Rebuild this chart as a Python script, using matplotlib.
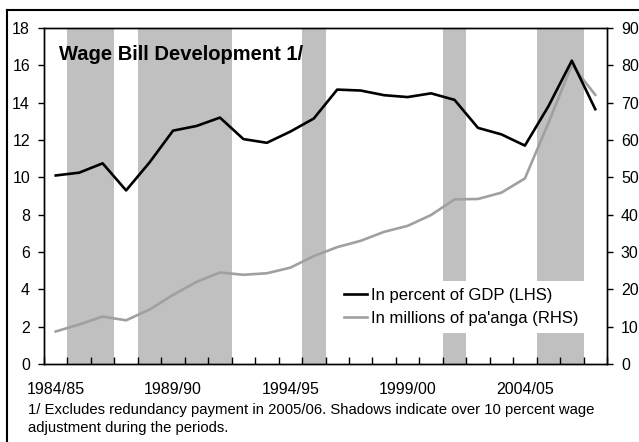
import matplotlib
matplotlib.use("Agg")
import matplotlib.pyplot as plt
from matplotlib.lines import Line2D

plt.rcParams['font.family'] = ['Liberation Sans', 'DejaVu Sans']

years = ['1984/85', '1985/86', '1986/87', '1987/88', '1988/89', '1989/90',
         '1990/91', '1991/92', '1992/93', '1993/94', '1994/95', '1995/96',
         '1996/97', '1997/98', '1998/99', '1999/00', '2000/01', '2001/02',
         '2002/03', '2003/04', '2004/05', '2005/06', '2006/07', '2007/08']
pct_gdp = [10.1, 10.25, 10.75, 9.3, 10.8, 12.5, 12.75, 13.2, 12.05, 11.85,
           12.45, 13.15, 14.7, 14.65, 14.4, 14.3, 14.5, 14.15, 12.65, 12.3,
           11.7, 13.8, 16.25, 13.65]
millions = [8.7, 10.6, 12.7, 11.7, 14.6, 18.5, 22.0, 24.5, 23.9, 24.3,
            25.8, 28.9, 31.3, 33.0, 35.4, 37.0, 39.9, 44.1, 44.2, 45.9,
            49.7, 64.5, 80.1, 72.1]
shaded = [0, 1, 1, 0, 1, 1, 1, 1, 0, 0, 0, 1, 0, 0, 0, 0, 0, 1, 0, 0, 0, 1, 1, 0]
label_years = ['1984/85', '1989/90', '1994/95', '1999/00', '2004/05']

W, H = 639, 442
fig = plt.figure(figsize=(W / 100, H / 100), dpi=100)
# axr: right-hand scale (drawn first, holds bands + grey line)
axr = fig.add_axes([44 / W, 1 - 364 / H, (607 - 44) / W, (364 - 28) / H])
# axl: left-hand scale (drawn on top, holds black line)
axl = axr.twinx()
axr.yaxis.tick_right()
axl.yaxis.tick_left()

x = list(range(len(years)))
band_h = [90 if s else 0 for s in shaded]
axr.bar(x, band_h, width=1.0, color='#c0c0c0', linewidth=0, zorder=0)
l2, = axr.plot(x, millions, color='#a0a0a0', lw=1.9, zorder=2)
l1, = axl.plot(x, pct_gdp, color='black', lw=1.9, zorder=3)

axr.set_xlim(-0.5, len(years) - 0.5)
axl.set_ylim(0, 18)
axr.set_ylim(0, 90)
axl.set_yticks(range(0, 19, 2))
axr.set_yticks(range(0, 91, 10))

# x ticks at category boundaries (inside), labels at centers
axr.set_xticks([i - 0.5 for i in range(len(years) + 1)])
axr.set_xticklabels([])
axr.tick_params(axis='x', which='major', direction='in', length=5, width=1, color='black')
axr.set_xticks([years.index(y) for y in label_years], minor=True)
axr.set_xticklabels(label_years, minor=True, fontsize=11.5)
axr.tick_params(axis='x', which='minor', length=0, pad=13)
axl.tick_params(axis='x', which='both', length=0, labelbottom=False)

axl.tick_params(axis='y', direction='out', length=4, width=1, labelsize=11.5, pad=6)
axr.tick_params(axis='y', direction='out', length=4, width=1, labelsize=11.5, pad=6)

for a in (axl, axr):
    for s in a.spines.values():
        s.set_linewidth(1.0)
        s.set_color('black')

fig.text(59 / W, 1 - 55 / H, 'Wage Bill Development 1/',
         fontsize=14.5, fontweight='bold', va='center', ha='left', zorder=5)

leg = axl.legend([l1, l2], ['In percent of GDP (LHS)', "In millions of pa'anga (RHS)"],
                 loc='center', bbox_to_anchor=(461 / W, 1 - 307 / H),
                 bbox_transform=fig.transFigure, fontsize=12, frameon=True,
                 fancybox=False, handlelength=1.4, handletextpad=0.2,
                 borderpad=0.4, labelspacing=0.5, borderaxespad=0)
leg.get_frame().set_facecolor('white')
leg.get_frame().set_edgecolor('none')
leg.get_frame().set_alpha(1)

fig.text(28 / W, 1 - 410 / H,
         '1/ Excludes redundancy payment in 2005/06. Shadows indicate over 10 percent wage',
         fontsize=10.7, va='center', ha='left')
fig.text(28 / W, 1 - 428 / H, 'adjustment during the periods.',
         fontsize=10.7, va='center', ha='left')

# outer frame
fig.add_artist(Line2D([6.5 / W, 6.5 / W], [0, 1 - 9.5 / H], transform=fig.transFigure,
                      color='black', lw=1.5))
fig.add_artist(Line2D([6.5 / W, 1], [1 - 9.5 / H, 1 - 9.5 / H], transform=fig.transFigure,
                      color='black', lw=1.5))

fig.savefig('out.png', dpi=100)
